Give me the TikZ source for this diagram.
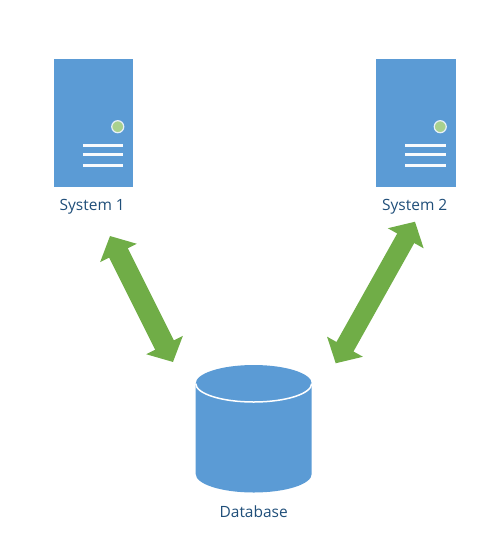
\documentclass[tikz,border=0pt]{standalone}
\usepackage{fontspec}
\setmainfont{Open Sans}
\usetikzlibrary{arrows.meta}
\definecolor{boxblue}{HTML}{5B9BD5}
\definecolor{arrowgreen}{HTML}{70AD47}
\definecolor{dotgreen}{HTML}{A9D18E}
\definecolor{labelblue}{HTML}{1F4E79}
\tikzset{
  serverbox/.style={fill=boxblue,draw=none,minimum width=79.5pt,minimum height=128pt,inner sep=0pt,outer sep=0pt},
  slot/.style={draw=white!95!boxblue,line width=3pt},
  lamp/.style={circle,fill=dotgreen,draw=white!85!boxblue,line width=1.2pt,minimum size=12pt,inner sep=0pt},
  caption/.style={text=labelblue,font=\fontsize{15.5}{18}\selectfont,inner sep=0pt},
  biarrow/.style={draw=arrowgreen,line width=#1,{Triangle[length=19pt,width=40pt]}-{Triangle[length=19pt,width=40pt]}},
}
\begin{document}
\begin{tikzpicture}[x=1pt,y=-1pt]
\useasboundingbox (0,0) rectangle (497,560);
% servers
\foreach \nm/\cx/\txt in {sysA/93.25/System 1,sysB/415.75/System 2}{
  \node[serverbox] (\nm) at (\cx,123) {};
  \node[lamp] (\nm lamp) at (\cx+24.5,126.7) {};
  \foreach \yy in {145,154.5,165}{
    \draw[slot] (\cx-10.5,\yy) -- (\cx+30,\yy);
  }
  \node[caption] (\nm label) at (\cx-1,206.5) {\txt};
}
% database
\coordinate (dbc) at (253.7,383.5);
\fill[boxblue] (195.7,383.5) -- (195.7,474) arc[start angle=180,end angle=0,x radius=58,y radius=18.5] -- (311.7,383.5) -- cycle;
\fill[boxblue] (dbc) ellipse[x radius=58,y radius=18.5];
\draw[white,line width=1.5pt] (195.7,383.5) arc[start angle=180,end angle=0,x radius=58,y radius=18.5];
\node[caption] (dblabel) at (253.7,512) {Database};
% connectors
\coordinate (a1) at (110,236);
\coordinate (a2) at (173,362);
\coordinate (b1) at (415,221.7);
\coordinate (b2) at (335.7,363.3);
\draw[biarrow=21pt] (a1) -- (a2);
\draw[biarrow=19.5pt] (b1) -- (b2);
\end{tikzpicture}
\end{document}
